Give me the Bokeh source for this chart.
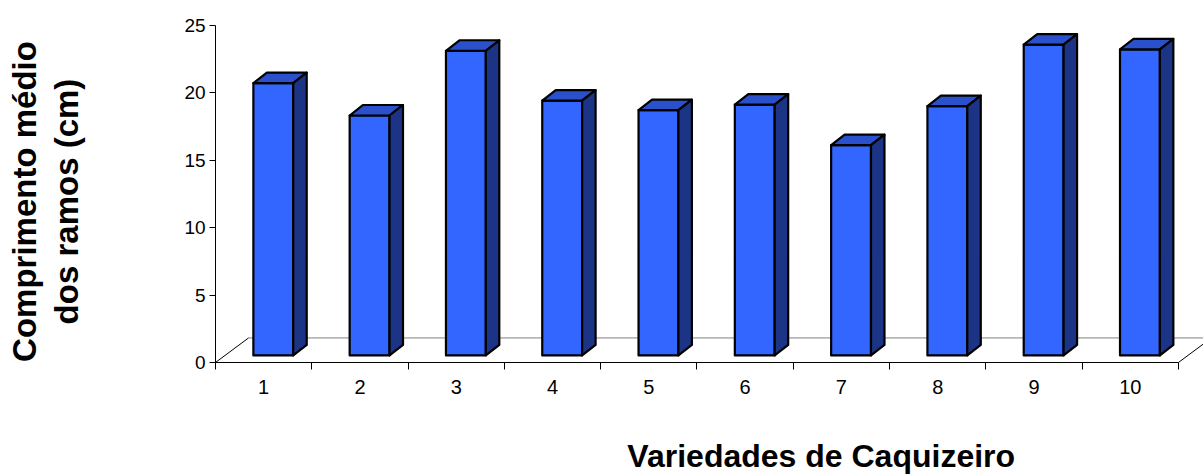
import numpy as np
from math import pi
from bokeh.plotting import figure
from bokeh.models import FixedTicker, Label, Range1d
from bokeh.embed import file_html
from bokeh.resources import INLINE

# ---- data ----
categories = ["1", "2", "3", "4", "5", "6", "7", "8", "9", "10"]
values = [20.2, 17.8, 22.6, 18.9, 18.2, 18.6, 15.6, 18.5, 23.05, 22.7]
y_ticks = [0, 5, 10, 15, 20, 25]
x_title = "Variedades de Caquizeiro"
y_title_lines = ["Comprimento médio", "dos ramos (cm)"]

# ---- styling / geometry (data units) ----
FONT = "Liberation Sans"
FRONT = "#3366FF"
TOP = "#2A50CC"
SIDE = "#1B3485"
fdx, fdy = 0.343, 1.82      # floor depth offset
sx, sy = 0.10, 0.52         # bar front face offset into the depth
bdx, bdy = 0.14, 0.78       # bar depth
hw = 0.207                  # bar half width

n = len(categories)
xc = np.arange(1, n + 1, dtype=float)
v = np.array(values)
x_lo, x_hi = 0.5, n + 0.5

# frame covers the whole canvas; axes are pinned with fixed_location
p = figure(width=1203, height=476, output_backend="svg", toolbar_location=None,
           x_range=Range1d(-1.733, 10.76), y_range=Range1d(-8.457, 26.85),
           min_border=0)
p.outline_line_color = None
p.xgrid.visible = False
p.ygrid.visible = False
p.background_fill_color = "white"
p.border_fill_color = "white"

# floor
p.patch([x_lo, x_hi, x_hi + fdx, x_lo + fdx], [0, 0, fdy, fdy],
        fill_color="white", line_color=None)
p.line([x_lo + fdx, x_hi + fdx], [fdy, fdy], line_color="#808080", line_width=1)
p.line([x_lo, x_lo + fdx], [0, fdy], line_color="black", line_width=1)
p.line([x_hi, x_hi + fdx], [0, fdy], line_color="black", line_width=1)

# bars
x0 = xc - hw + sx
x1 = xc + hw + sx
y0 = np.full(n, sy)
y1 = sy + v
p.quad(left=x0, right=x1, bottom=y0, top=y1, fill_color=FRONT,
       line_color="black", line_width=2.2, line_join="round")
top_xs = [[a, b, b + bdx, a + bdx] for a, b in zip(x0, x1)]
top_ys = [[t, t, t + bdy, t + bdy] for t in y1]
p.patches(top_xs, top_ys, fill_color=TOP, line_color="black",
          line_width=2.2, line_join="round")
side_xs = [[b, b + bdx, b + bdx, b] for b in x1]
side_ys = [[s, s + bdy, t + bdy, t] for s, t in zip(y0, y1)]
p.patches(side_xs, side_ys, fill_color=SIDE, line_color="black",
          line_width=2.2, line_join="round")

# axes
xa = p.xaxis[0]
xa.fixed_location = 0
xa.ticker = FixedTicker(ticks=list(xc), minor_ticks=[i + 0.5 for i in range(n + 1)])
xa.major_label_overrides = {i + 1: c for i, c in enumerate(categories)}
xa.bounds = (x_lo, x_hi)
xa.axis_line_color = "black"
xa.major_tick_line_color = None
xa.major_tick_out = 0
xa.major_tick_in = 0
xa.minor_tick_line_color = "black"
xa.minor_tick_out = 7
xa.minor_tick_in = 0
xa.major_label_standoff = 11
xa.major_label_text_font = FONT
xa.major_label_text_font_size = "20px"
xa.major_label_text_color = "black"

ya = p.yaxis[0]
ya.fixed_location = x_lo
ya.ticker = FixedTicker(ticks=y_ticks, minor_ticks=[])
ya.bounds = (y_ticks[0], y_ticks[-1])
ya.axis_line_color = "black"
ya.major_tick_line_color = "black"
ya.major_tick_out = 6
ya.major_tick_in = 0
ya.minor_tick_line_color = None
ya.major_label_standoff = 4
ya.major_label_text_font = FONT
ya.major_label_text_font_size = "19px"
ya.major_label_text_color = "black"

# titles
p.add_layout(Label(x=6.79, y=-6.95, text=x_title,
                   text_font=FONT, text_font_style="bold", text_font_size="32px",
                   text_align="center", text_baseline="middle", text_color="black"))
for line, xs_ in zip(y_title_lines, [-1.48, -1.05]):
    p.add_layout(Label(x=xs_, y=11.94, text=line,
                       angle=pi / 2, text_font=FONT, text_font_style="bold",
                       text_font_size="33px", text_align="center",
                       text_baseline="middle", text_color="black"))

open("out.html", "w").write(file_html(p, INLINE))
